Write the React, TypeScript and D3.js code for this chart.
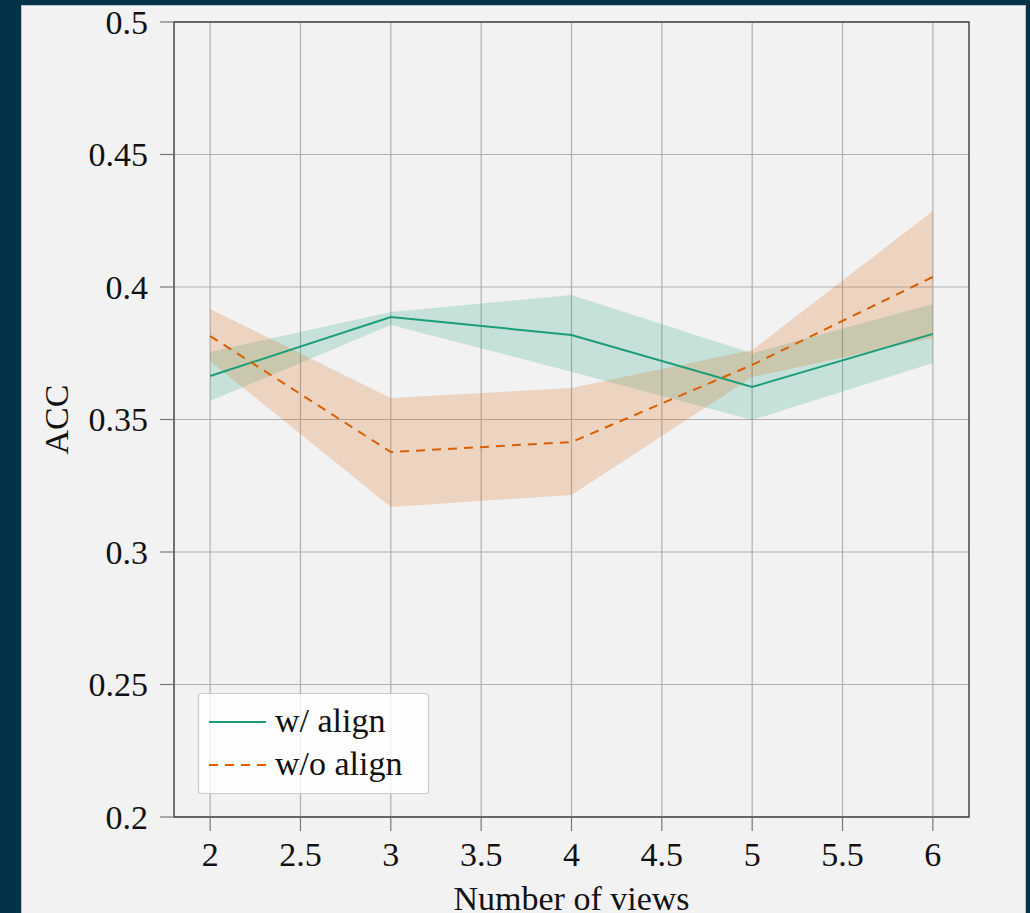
import React from 'react';
import * as d3 from 'd3';

// views on the x axis
const views = [2, 3, 4, 5, 6];

// w/ align (green)
const alignMean = [0.3664, 0.3887, 0.3819, 0.3623, 0.3823];
const alignLow = [0.357, 0.3857, 0.368, 0.3498, 0.3713];
const alignHigh = [0.3755, 0.3906, 0.397, 0.375, 0.3936];

// w/o align (orange)
const noAlignMean = [0.3815, 0.3377, 0.3415, 0.3706, 0.4038];
const noAlignLow = [0.372, 0.317, 0.3215, 0.366, 0.3808];
const noAlignHigh = [0.3917, 0.3581, 0.3619, 0.3762, 0.4287];

const xTicks = [2, 2.5, 3, 3.5, 4, 4.5, 5, 5.5, 6];
const yTicks = [0.2, 0.25, 0.3, 0.35, 0.4, 0.45, 0.5];

const GREEN = '#1b9e77';
const ORANGE = '#d95f02';
const FONT = '"Liberation Serif", "DejaVu Serif", serif';

const W = 1030;
const H = 913;
const plot = { left: 174, top: 22, right: 969, bottom: 817 };

const App = () => {
  const x = d3.scaleLinear().domain([1.8, 6.2]).range([plot.left, plot.right]);
  const y = d3.scaleLinear().domain([0.2, 0.5]).range([plot.bottom, plot.top]);

  const area = (lo: number[], hi: number[]) =>
    d3.area<number>()
      .x(d => x(d))
      .y0((_, i) => y(lo[i]))
      .y1((_, i) => y(hi[i]))(views) as string;

  const line = (vals: number[]) =>
    d3.line<number>()
      .x(d => x(d))
      .y((_, i) => y(vals[i]))(views) as string;

  const fmt = (v: number) => String(+v.toFixed(2));

  return (
    <div style={{ position: 'absolute', left: 0, top: 0 }}>
      <svg width={W} height={H} style={{ display: 'block' }} fontFamily={FONT}>
        <rect x={0} y={0} width={W} height={H} fill="#033349" />
        <rect x={21.5} y={5.5} width={1004} height={H} fill="#f2f2f2" stroke="#b9c6cc" strokeWidth={1} />

        {/* grid */}
        {xTicks.map(t => (
          <line key={'gx' + t} x1={x(t)} x2={x(t)} y1={plot.top} y2={plot.bottom}
            stroke="#b0b0b0" strokeWidth={1.2} />
        ))}
        {yTicks.map(t => (
          <line key={'gy' + t} x1={plot.left} x2={plot.right} y1={y(t)} y2={y(t)}
            stroke="#b0b0b0" strokeWidth={1.2} />
        ))}

        {/* bands */}
        <path d={area(alignLow, alignHigh)} fill={GREEN} fillOpacity={0.2} />
        <path d={area(noAlignLow, noAlignHigh)} fill={ORANGE} fillOpacity={0.2} />

        {/* lines */}
        <path d={line(alignMean)} fill="none" stroke={GREEN} strokeWidth={2} />
        <path d={line(noAlignMean)} fill="none" stroke={ORANGE} strokeWidth={2} strokeDasharray="9,7" />

        {/* frame */}
        <rect x={plot.left} y={plot.top} width={plot.right - plot.left} height={plot.bottom - plot.top}
          fill="none" stroke="#3a3a3a" strokeWidth={1.4} />

        {/* x ticks */}
        {xTicks.map(t => (
          <g key={'tx' + t}>
            <line x1={x(t)} x2={x(t)} y1={plot.bottom} y2={plot.bottom + 14} stroke="#777" strokeWidth={1.2} />
            <text x={x(t)} y={plot.bottom + 49} textAnchor="middle" fontSize={34} fill="#111">{fmt(t)}</text>
          </g>
        ))}
        {/* y ticks */}
        {yTicks.map(t => (
          <g key={'ty' + t}>
            <line x1={plot.left - 14} x2={plot.left} y1={y(t)} y2={y(t)} stroke="#777" strokeWidth={1.2} />
            <text x={plot.left - 26} y={y(t)} dy="0.35em" textAnchor="end" fontSize={34} fill="#111">{fmt(t)}</text>
          </g>
        ))}

        <text x={(plot.left + plot.right) / 2} y={910} textAnchor="middle" fontSize={34} fill="#111">Number of views</text>
        <text transform={`translate(68,${(plot.top + plot.bottom) / 2}) rotate(-90)`} textAnchor="middle"
          fontSize={34} fill="#111">ACC</text>

        {/* legend */}
        <rect x={198.5} y={693.5} width={230} height={100} rx={3} fill="#ffffff" fillOpacity={0.8}
          stroke="#cccccc" strokeWidth={1.2} />
        <line x1={209} x2={266} y1={722} y2={722} stroke={GREEN} strokeWidth={2} />
        <text x={275} y={732} fontSize={34} fill="#111">w/ align</text>
        <line x1={209} x2={266} y1={765} y2={765} stroke={ORANGE} strokeWidth={2} strokeDasharray="9,7" />
        <text x={275} y={775} fontSize={34} fill="#111">w/o align</text>
      </svg>
    </div>
  );
};

export default App;
